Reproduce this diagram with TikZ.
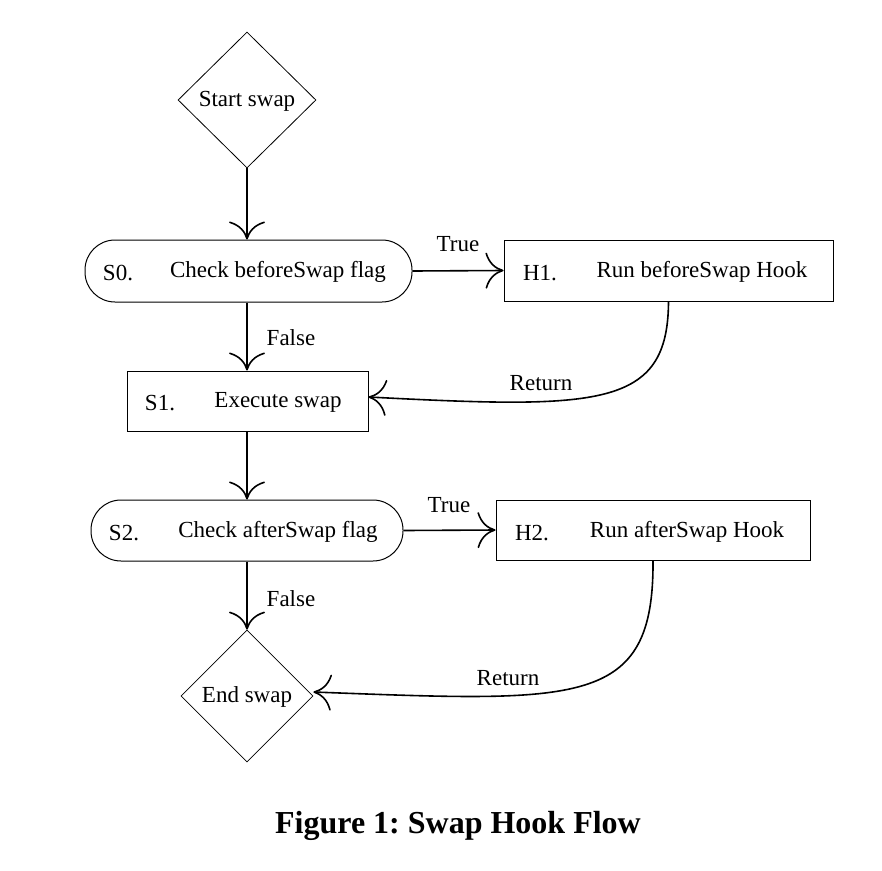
\documentclass[tikz,border=0pt]{standalone}
\usepackage{fontspec}
\setmainfont{Liberation Serif}
\usetikzlibrary{shapes.geometric,arrows.meta}
\frenchspacing
\begin{document}
\begin{tikzpicture}[x=1pt,y=-1pt,
  every node/.style={font=\fontsize{23}{27}\selectfont, inner sep=0pt},
  dia/.style={draw, line width=0.8pt, diamond, minimum width=138pt, minimum height=136pt},
  flagbox/.style={draw, line width=1pt, rectangle, rounded corners=30pt, minimum height=62pt},
  hookbox/.style={draw, line width=1pt, rectangle, minimum height=61pt},
  arr/.style={line width=1.6pt, -{Computer Modern Rightarrow[length=18pt,width=36pt,line width=1.6pt]}},
  lbl/.style={font=\fontsize{23}{27}\selectfont}
]
\useasboundingbox (0,0) rectangle (882,870);
% nodes
\node[dia] (start) at (247,100) {};
\node (starttxt) at (247,101) {Start swap};
\node[flagbox, minimum width=327pt] (S0) at (248.5,271) {};
\node (S0n) at (118,273) {S0.};
\node (S0t) at (278,272) {Check beforeSwap flag};
\node[hookbox, minimum width=329pt] (H1) at (668.5,270.5) {};
\node (H1n) at (540,273) {H1.};
\node (H1t) at (702,272) {Run beforeSwap Hook};
\node[hookbox, minimum width=241pt, minimum height=60pt] (S1) at (247.5,401) {};
\node (S1n) at (160,403) {S1.};
\node (S1t) at (278,402) {Execute swap};
\node[flagbox, minimum width=312pt, minimum height=61pt] (S2) at (247,530.5) {};
\node (S2n) at (124,533) {S2.};
\node (S2t) at (278,532) {Check afterSwap flag};
\node[hookbox, minimum width=314pt, minimum height=60pt] (H2) at (653,530) {};
\node (H2n) at (532,533) {H2.};
\node (H2t) at (687,532) {Run afterSwap Hook};
\node[dia, minimum width=132pt, minimum height=132pt] (end) at (247,696) {};
\node (endtxt) at (247,697) {End swap};
% labels
\node[lbl] (t1) at (458,244) {True};
\node[lbl] (f1) at (291,338) {False};
\node[lbl] (r1) at (541,383) {Return};
\node[lbl] (t2) at (449,505) {True};
\node[lbl] (f2) at (291,599) {False};
\node[lbl] (r2) at (508,678) {Return};
\node[font=\fontsize{32}{38}\selectfont\bfseries] (cap) at (458,826) {Figure 1: Swap Hook Flow};
% connectors
\draw[arr] (start.south) -- (S0.north -| start.south);
\draw[arr] (S0.east) -- (H1.west);
\draw[arr] (S0.south -| start.south) -- (S1.north -| start.south);
\draw[arr] (H1.south) .. controls (668,408) and (600,409) .. ([yshift=4pt]S1.east);
\draw[arr] (S1.south -| start.south) -- (S2.north -| start.south);
\draw[arr] (S2.east) -- (H2.west);
\draw[arr] (S2.south -| start.south) -- (end.north);
\draw[arr] (H2.south) .. controls (654,708) and (580,702) .. ([yshift=4pt]end.east);
\end{tikzpicture}
\end{document}
